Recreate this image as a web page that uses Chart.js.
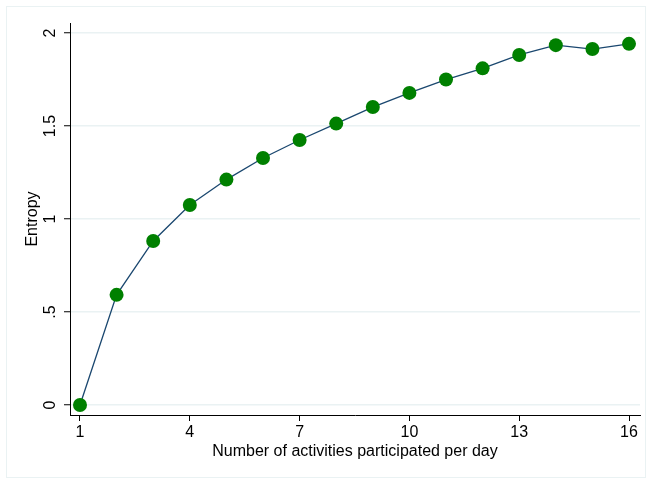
<!DOCTYPE html>
<html>
<head>
<meta charset="utf-8">
<script src="https://cdn.jsdelivr.net/npm/chart.js@4/dist/chart.umd.min.js"></script>
<style>
  html, body { margin: 0; padding: 0; background: #ffffff; }
  #wrap { width: 651px; height: 479px; position: relative; }
</style>
</head>
<body>
<div id="wrap"><canvas id="entropyChart" width="651" height="479"></canvas></div>
<script>
const activities = [1, 2, 3, 4, 5, 6, 7, 8, 9, 10, 11, 12, 13, 14, 15, 16];
const entropy = [0, 0.592, 0.882, 1.075, 1.212, 1.328, 1.425, 1.513, 1.602, 1.678, 1.750, 1.810, 1.882, 1.935, 1.914, 1.942];
const xTicks = [1, 4, 7, 10, 13, 16];
const yTicks = [0, 0.5, 1, 1.5, 2];
const yTickLabels = ['0', '.5', '1', '1.5', '2'];

const frame = {
    id: 'frame',
    beforeDraw(chart) {
        const ctx = chart.ctx;
        ctx.save();
        ctx.fillStyle = '#ffffff';
        ctx.fillRect(0, 0, chart.width, chart.height);
        ctx.strokeStyle = '#eaf2f3';
        ctx.lineWidth = 1;
        ctx.strokeRect(6.5, 6.5, 639, 471);
        ctx.restore();
    }
};

const font = { family: 'Liberation Sans', size: 16 };

const data = {
    datasets: [{
        label: 'Entropy',
        data: activities.map((a, i) => ({x: a, y: entropy[i]})),
        borderColor: '#1a476f',
        borderWidth: 1.3,
        backgroundColor: '#008000',
        pointBackgroundColor: '#008000',
        pointBorderWidth: 0,
        pointRadius: 7,
        tension: 0,
        fill: false
    }]
};

const config = {
    type: 'line',
    data: data,
    options: {
        responsive: false,
        animation: false,
        layout: { padding: { left: 0, top: 23, right: 11, bottom: 0 } },
        plugins: { legend: { display: false }, tooltip: { enabled: false } },
        scales: {
            x: {
                type: 'linear',
                min: 0.727,
                max: 16.3,
                afterBuildTicks: scale => { scale.ticks = xTicks.map(v => ({value: v})); },
                afterFit: scale => { scale.height = 64; },
                grid: { drawOnChartArea: false, tickColor: '#000000', tickLength: 6, tickWidth: 1 },
                border: { display: true, color: '#000000', width: 1 },
                ticks: { color: '#000000', font: font, padding: 2, maxRotation: 0 },
                title: { display: true, text: 'Number of activities participated per day', color: '#000000',
                         font: font, padding: { top: 0, bottom: 18 } }
            },
            y: {
                min: -0.054,
                max: 2.054,
                afterBuildTicks: scale => { scale.ticks = yTicks.map(v => ({value: v})); },
                afterFit: scale => { scale.width = 70; },
                grid: { color: '#eaf2f3', lineWidth: 1.5, tickColor: '#000000', tickLength: 6, tickWidth: 1 },
                border: { display: true, color: '#000000', width: 1 },
                ticks: {
                    color: '#000000', font: font, padding: 2,
                    minRotation: 90, maxRotation: 90, crossAlign: 'center',
                    callback: v => yTickLabels[yTicks.indexOf(v)]
                },
                title: { display: true, text: 'Entropy', color: '#000000',
                         font: font, padding: { top: 23, bottom: 0 } }
            }
        }
    },
    plugins: [frame]
};

new Chart(document.getElementById('entropyChart'), config);
</script>
</body>
</html>
